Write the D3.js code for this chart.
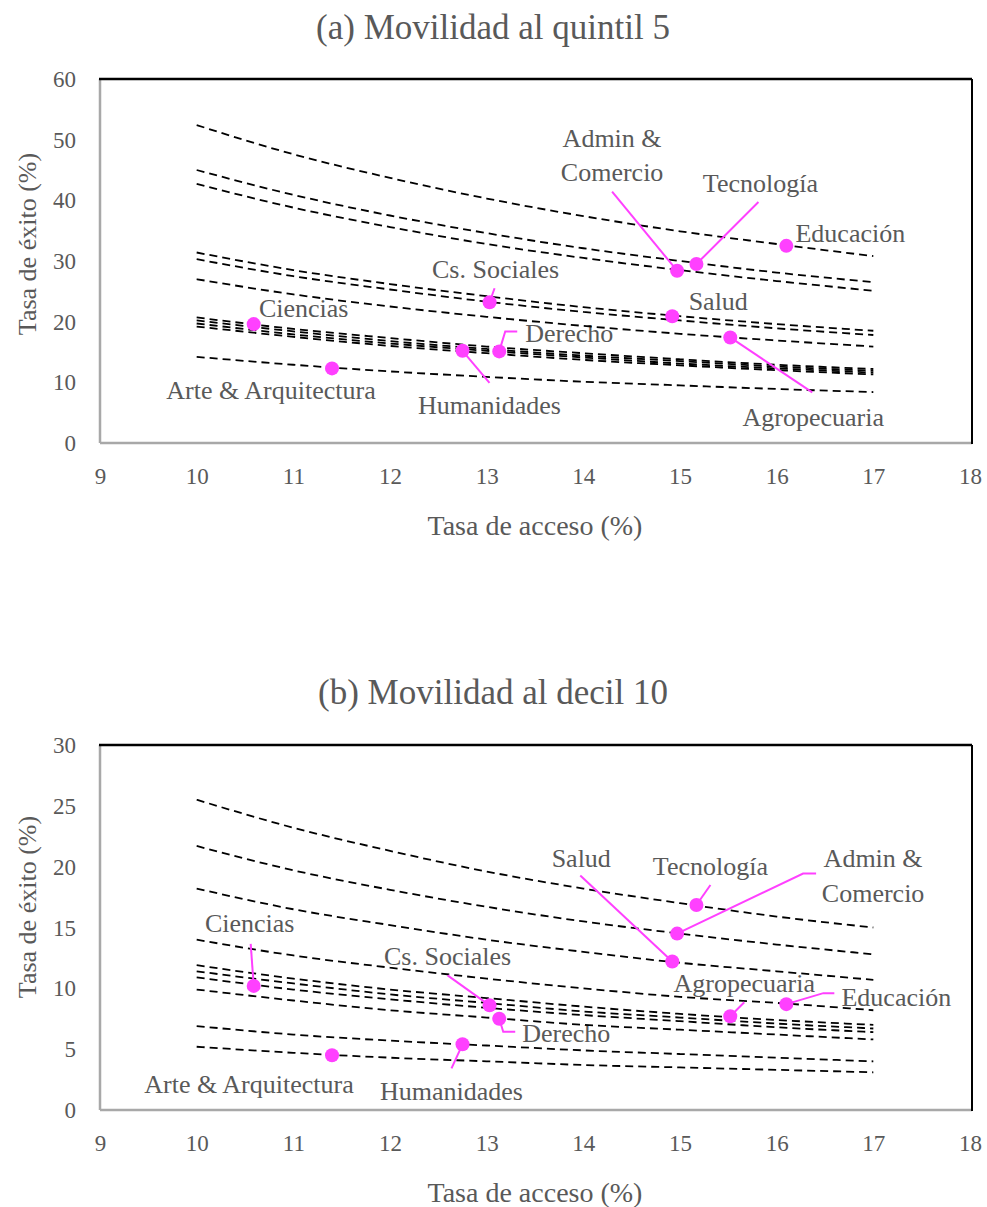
<!DOCTYPE html>
<html><head><meta charset="utf-8">
<script src="https://cdn.jsdelivr.net/npm/d3@7"></script>
<style>
body{margin:0;background:#fff}
text{font-family:"Liberation Serif","Times New Roman",serif;fill:#595959}
</style>
</head><body>
<svg id="chart" width="987" height="1207"></svg>
<script>
// ---------------- DATA ----------------
const accessGrid = [10, 11, 12, 13, 14, 15, 16, 17];
const xTicks = [9, 10, 11, 12, 13, 14, 15, 16, 17, 18];
const yTicksA = [0, 10, 20, 30, 40, 50, 60];
const yTicksB = [0, 5, 10, 15, 20, 25, 30];

// iso-mobility reference curves, success rate read at accessGrid
const curvesA = [
  [52.4, 47.6, 43.7, 40.3, 37.4, 34.9, 32.8, 30.8],
  [45.0, 40.9, 37.5, 34.6, 32.1, 30.0, 28.1, 26.5],
  [42.7, 38.8, 35.6, 32.8, 30.5, 28.5, 26.7, 25.1],
  [31.4, 28.5, 26.2, 24.2, 22.4, 20.9, 19.6, 18.5],
  [30.3, 27.5, 25.3, 23.3, 21.6, 20.2, 18.9, 17.8],
  [27.0, 24.5, 22.5, 20.8, 19.3, 18.0, 16.9, 15.9],
  [20.7, 18.8, 17.3, 15.9, 14.8, 13.8, 12.9, 12.2],
  [20.2, 18.4, 16.8, 15.5, 14.4, 13.5, 12.6, 11.9],
  [19.7, 17.9, 16.4, 15.2, 14.1, 13.1, 12.3, 11.6],
  [19.2, 17.5, 16.0, 14.8, 13.7, 12.8, 12.0, 11.3],
  [14.2, 12.9, 11.8, 10.9, 10.1, 9.5, 8.9, 8.4]
];
const curvesB = [
  [25.5, 23.2, 21.3, 19.6, 18.2, 17.0, 15.9, 15.0],
  [21.7, 19.7, 18.1, 16.7, 15.5, 14.5, 13.6, 12.8],
  [18.2, 16.5, 15.2, 14.0, 13.0, 12.1, 11.4, 10.7],
  [14.0, 12.7, 11.7, 10.8, 10.0, 9.3, 8.8, 8.2],
  [11.9, 10.8, 9.9, 9.2, 8.5, 7.9, 7.4, 7.0],
  [11.4, 10.4, 9.5, 8.8, 8.1, 7.6, 7.1, 6.7],
  [10.9, 9.9, 9.1, 8.4, 7.8, 7.3, 6.8, 6.4],
  [9.9, 9.0, 8.2, 7.6, 7.0, 6.6, 6.2, 5.8],
  [6.9, 6.2, 5.7, 5.3, 4.9, 4.6, 4.3, 4.0],
  [5.2, 4.7, 4.3, 4.0, 3.7, 3.5, 3.3, 3.1]
];

const fields = ["Educación", "Tecnología", "Admin & Comercio", "Cs. Sociales", "Salud",
  "Agropecuaria", "Ciencias", "Derecho", "Humanidades", "Arte & Arquitectura"];
const accessRate = [16.10, 15.17, 14.97, 13.03, 14.92, 15.52, 10.59, 13.13, 12.75, 11.40];
const successA = [32.5, 29.5, 28.4, 23.2, 20.9, 17.4, 19.6, 15.1, 15.2, 12.3];
const successB = [8.7, 16.85, 14.5, 8.6, 12.2, 7.7, 10.2, 7.5, 5.4, 4.5];

const titles = ["(a) Movilidad al quintil 5", "(b) Movilidad al decil 10"];
const xTitle = "Tasa de acceso (%)";
const yTitle = "Tasa de éxito (%)";

// ---------------- LAYOUT (pixel offsets from each point) ----------------
const layoutA = {
  "Educación": {dx: 64, dy: -12},
  "Tecnología": {dx: 64, dy: -81, leader: [[62, -62]]},
  "Admin & Comercio": {dx: -65, dy: -132, lines: ["Admin &", "Comercio"], gap: 34, leader: [[-65, -79]]},
  "Cs. Sociales": {dx: 6, dy: -33, leader: [[5, -14]]},
  "Salud": {dx: 46, dy: -15},
  "Agropecuaria": {dx: 83, dy: 80, leader: [[82, 55]]},
  "Ciencias": {dx: 50, dy: -16},
  "Derecho": {dx: 70, dy: -18, leader: [[6, -20], [18, -20]]},
  "Humanidades": {dx: 27, dy: 55, leader: [[27, 32]]},
  "Arte & Arquitectura": {dx: -61, dy: 22}
};
const layoutB = {
  "Educación": {dx: 110, dy: -7, leader: [[37, -11], [48, -11]]},
  "Tecnología": {dx: 14, dy: -38, leader: [[14, -20]]},
  "Admin & Comercio": {dx: 196, dy: -75, lines: ["Admin &", "Comercio"], gap: 35, leader: [[126, -60], [139, -60]]},
  "Cs. Sociales": {dx: -42, dy: -49, leader: [[-42, -30]]},
  "Salud": {dx: -91, dy: -103, leader: [[-92, -86]]},
  "Agropecuaria": {dx: 14, dy: -33, leader: [[14, -14]]},
  "Ciencias": {dx: -4, dy: -62, leader: [[-3, -42]]},
  "Derecho": {dx: 67, dy: 15, leader: [[4, 13], [16, 13]]},
  "Humanidades": {dx: -11, dy: 47, leader: [[-11, 24]]},
  "Arte & Arquitectura": {dx: -83, dy: 29}
};

const panels = [
  {title: titles[0], curves: curvesA, success: successA, yMax: 60, yTicks: yTicksA, layout: layoutA,
   top: 79, bottom: 443, titleY: 27, tickY: 476, xTitleY: 525, yTitleY: 244},
  {title: titles[1], curves: curvesB, success: successB, yMax: 30, yTicks: yTicksB, layout: layoutB,
   top: 745, bottom: 1110, titleY: 692, tickY: 1143, xTitleY: 1192, yTitleY: 907}
];

const svg = d3.select("#chart");
const left = 100, right = 970;
const pink = "#ff40ff";

panels.forEach(p => {
  const g = svg.append("g");
  const x = d3.scaleLinear().domain([9, 18]).range([left, right]);
  const y = d3.scaleLinear().domain([0, p.yMax]).range([p.bottom, p.top]);

  // title
  g.append("text").attr("x", 493).attr("y", p.titleY).attr("text-anchor", "middle")
    .attr("dominant-baseline", "central").style("font-size", "35px").text(p.title);

  // frame
  g.append("line").attr("x1", left).attr("x2", left).attr("y1", p.top).attr("y2", p.bottom)
    .attr("stroke", "#a8a8a8").attr("stroke-width", 2.5);
  g.append("line").attr("x1", left).attr("x2", right + 2).attr("y1", p.bottom).attr("y2", p.bottom)
    .attr("stroke", "#a8a8a8").attr("stroke-width", 2.5);
  g.append("line").attr("x1", left - 1).attr("x2", right + 2).attr("y1", p.top).attr("y2", p.top)
    .attr("stroke", "#000").attr("stroke-width", 2.5);
  g.append("line").attr("x1", right + 2).attr("x2", right + 2).attr("y1", p.top).attr("y2", p.bottom + 1)
    .attr("stroke", "#000").attr("stroke-width", 2);

  // axes (labels only)
  const xAxis = d3.axisBottom(x).tickValues(xTicks).tickSize(0).tickPadding(0);
  const xa = g.append("g").attr("transform", `translate(0,${p.tickY})`).call(xAxis);
  xa.select(".domain").remove();
  xa.selectAll("text").attr("dy", null).attr("dominant-baseline", "central")
    .style("font-size", "23px").attr("fill", "#595959");

  const yAxis = d3.axisLeft(y).tickValues(p.yTicks).tickSize(0).tickPadding(0);
  const ya = g.append("g").attr("transform", `translate(76,0)`).call(yAxis);
  ya.select(".domain").remove();
  ya.selectAll("text").attr("dy", null).attr("dominant-baseline", "central")
    .style("font-size", "23px").attr("fill", "#595959");

  g.append("text").attr("x", 535).attr("y", p.xTitleY).attr("text-anchor", "middle")
    .attr("dominant-baseline", "central").style("font-size", "28px").text(xTitle);
  g.append("text").attr("transform", `translate(27,${p.yTitleY}) rotate(-90)`).attr("text-anchor", "middle")
    .attr("dominant-baseline", "central").style("font-size", "26px").text(yTitle);

  // labels
  fields.forEach((f, i) => {
    const L = p.layout[f];
    const px = x(accessRate[i]), py = y(p.success[i]);
    const lines = L.lines || [f];
    lines.forEach((ln, k) => {
      g.append("text").attr("x", px + L.dx).attr("y", py + L.dy + k * (L.gap || 0))
        .attr("text-anchor", "middle").attr("dominant-baseline", "central")
        .style("font-size", "26px").text(ln);
    });
  });

  // iso curves
  const line = d3.line().x((d, j) => x(accessGrid[j])).y(d => y(d)).curve(d3.curveMonotoneX);
  g.selectAll("path.curve").data(p.curves).join("path").attr("class", "curve")
    .attr("d", line).attr("fill", "none").attr("stroke", "#000")
    .attr("stroke-width", 1.8).attr("stroke-dasharray", "8,5");

  // leaders
  fields.forEach((f, i) => {
    const L = p.layout[f];
    if (!L.leader) return;
    const px = x(accessRate[i]), py = y(p.success[i]);
    const pts = [[px, py]].concat(L.leader.map(o => [px + o[0], py + o[1]]));
    g.append("path").attr("d", d3.line()(pts)).attr("fill", "none")
      .attr("stroke", pink).attr("stroke-width", 2);
  });

  // points
  g.selectAll("circle.pt").data(fields).join("circle").attr("class", "pt")
    .attr("cx", (d, i) => x(accessRate[i])).attr("cy", (d, i) => y(p.success[i]))
    .attr("r", 7).attr("fill", pink);
});
</script>
</body></html>
